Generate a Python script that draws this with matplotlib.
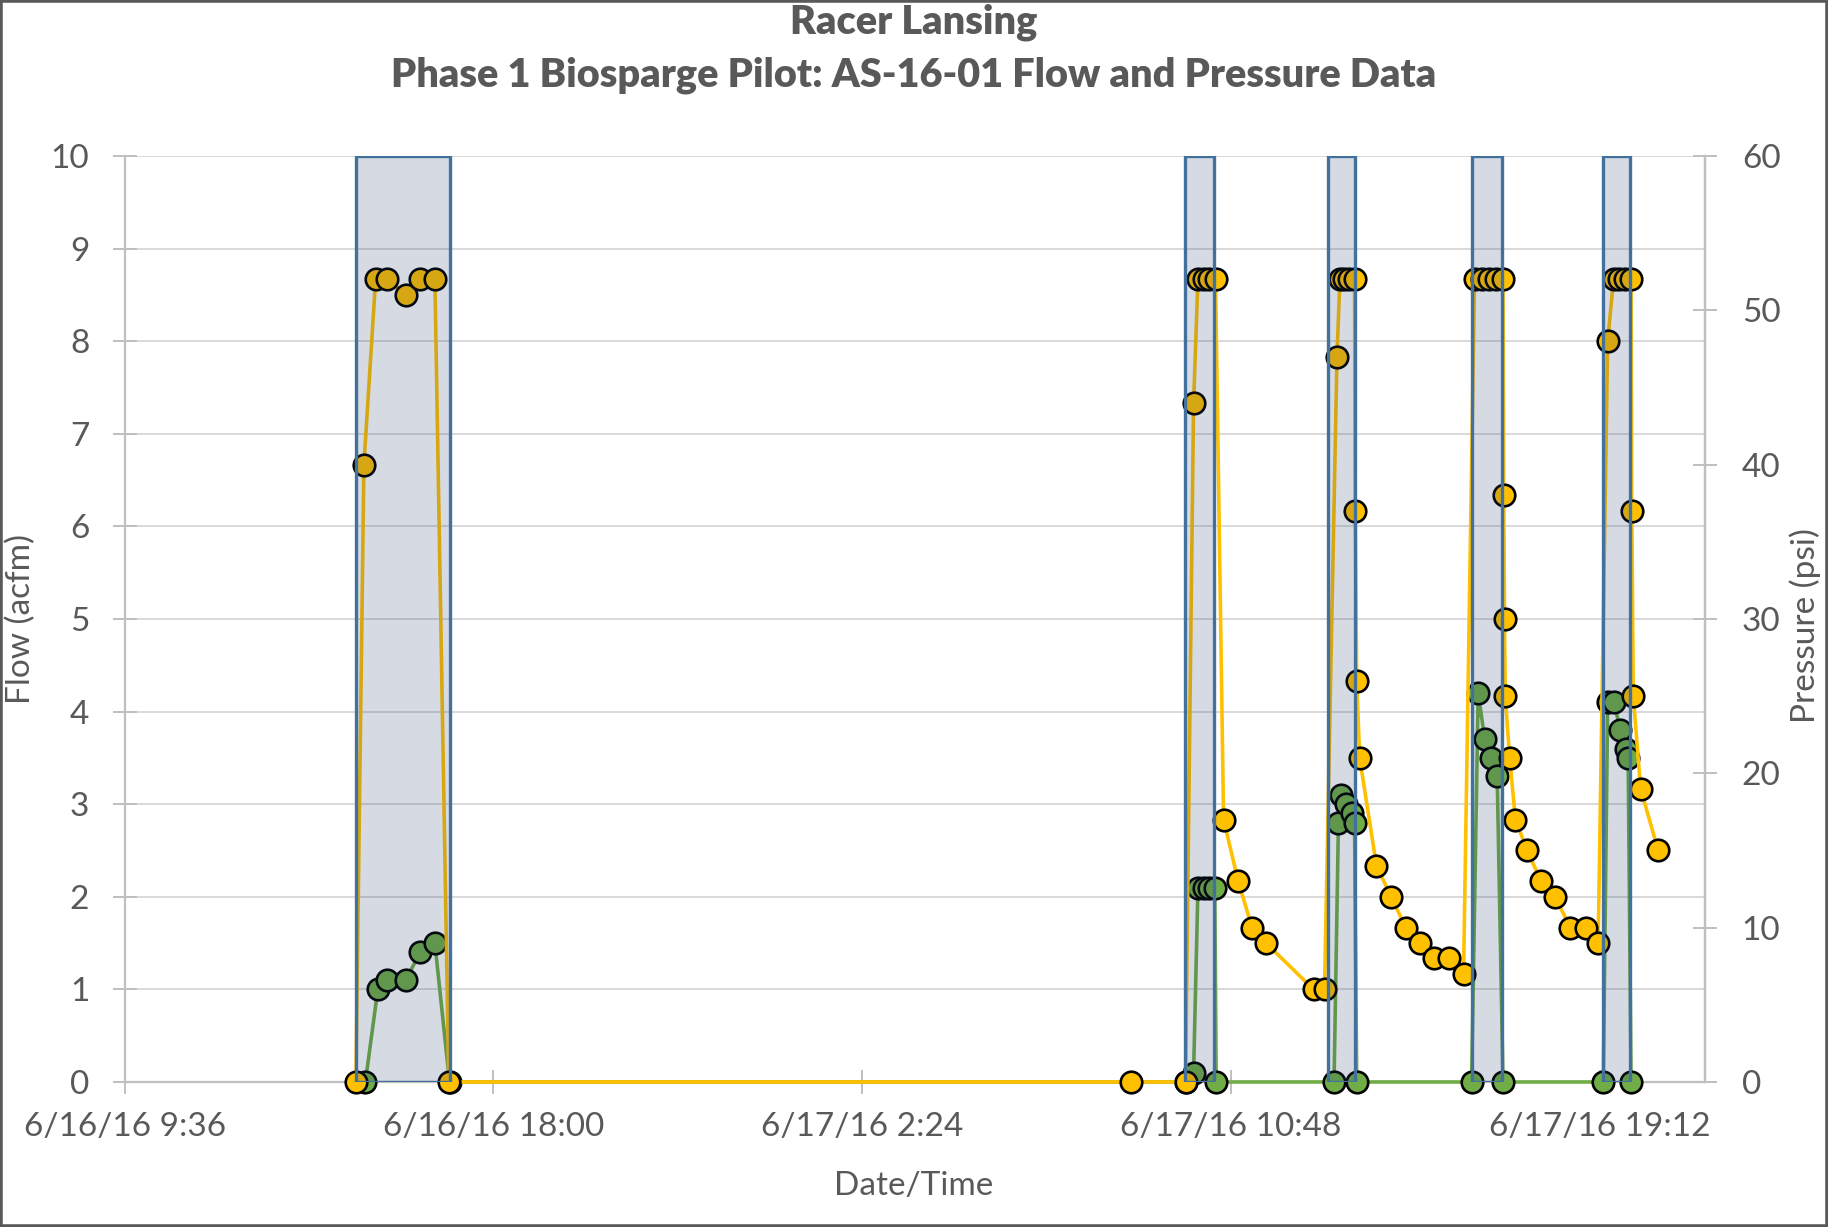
import pandas as pd
import matplotlib
matplotlib.use('Agg')
import matplotlib.pyplot as plt
from matplotlib.patches import Rectangle

plt.rcParams['font.family'] = ['Lato', 'DejaVu Sans']

# pressure readings (psi)
p_time = ['2016-06-16 14:52', '2016-06-16 15:03', '2016-06-16 15:19', '2016-06-16 15:35',
          '2016-06-16 16:00', '2016-06-16 16:20', '2016-06-16 16:40', '2016-06-16 16:59',
          '2016-06-17 08:31', '2016-06-17 09:46', '2016-06-17 09:57', '2016-06-17 10:03',
          '2016-06-17 10:11', '2016-06-17 10:18', '2016-06-17 10:27', '2016-06-17 10:38',
          '2016-06-17 10:58', '2016-06-17 11:17', '2016-06-17 11:36', '2016-06-17 12:41',
          '2016-06-17 12:56', '2016-06-17 13:13', '2016-06-17 13:17', '2016-06-17 13:23',
          '2016-06-17 13:29', '2016-06-17 13:37', '2016-06-17 13:38', '2016-06-17 13:40',
          '2016-06-17 13:44', '2016-06-17 14:07', '2016-06-17 14:27', '2016-06-17 14:47',
          '2016-06-17 15:06', '2016-06-17 15:26', '2016-06-17 15:46', '2016-06-17 16:06',
          '2016-06-17 16:21', '2016-06-17 16:31', '2016-06-17 16:41', '2016-06-17 16:50',
          '2016-06-17 17:00', '2016-06-17 17:01', '2016-06-17 17:02', '2016-06-17 17:03',
          '2016-06-17 17:09', '2016-06-17 17:17', '2016-06-17 17:33', '2016-06-17 17:52',
          '2016-06-17 18:11', '2016-06-17 18:32', '2016-06-17 18:53', '2016-06-17 19:10',
          '2016-06-17 19:23', '2016-06-17 19:31', '2016-06-17 19:39', '2016-06-17 19:47',
          '2016-06-17 19:55', '2016-06-17 19:56', '2016-06-17 19:58', '2016-06-17 20:08',
          '2016-06-17 20:32']
p_val = [0, 40, 52, 52, 51, 52, 52, 0,
         0, 0, 44, 52, 52, 52, 52, 17, 13, 10, 9, 6,
         6, 47, 52, 52, 52, 52, 37, 26, 21, 14, 12, 10,
         9, 8, 8, 7, 52, 52, 52, 52, 52, 38, 30, 25,
         21, 17, 15, 13, 12, 10, 10, 9, 48, 52, 52, 52,
         52, 37, 25, 19, 15]

# flow readings (acfm)
f_time = ['2016-06-16 15:05', '2016-06-16 15:22', '2016-06-16 15:35', '2016-06-16 16:00',
          '2016-06-16 16:20', '2016-06-16 16:40', '2016-06-16 17:00',
          '2016-06-17 09:46', '2016-06-17 09:57', '2016-06-17 10:03', '2016-06-17 10:11',
          '2016-06-17 10:18', '2016-06-17 10:26', '2016-06-17 10:28',
          '2016-06-17 13:09', '2016-06-17 13:15', '2016-06-17 13:19', '2016-06-17 13:25',
          '2016-06-17 13:33', '2016-06-17 13:37', '2016-06-17 13:40',
          '2016-06-17 16:17', '2016-06-17 16:26', '2016-06-17 16:35', '2016-06-17 16:43',
          '2016-06-17 16:52', '2016-06-17 17:00',
          '2016-06-17 19:17', '2016-06-17 19:23', '2016-06-17 19:32', '2016-06-17 19:40',
          '2016-06-17 19:48', '2016-06-17 19:51', '2016-06-17 19:55']
f_val = [0, 1.0, 1.1, 1.1, 1.4, 1.5, 0,
         0, 0.1, 2.1, 2.1, 2.1, 2.1, 0,
         0, 2.8, 3.1, 3.0, 2.9, 2.8, 0,
         0, 4.2, 3.7, 3.5, 3.3, 0,
         0, 4.1, 4.1, 3.8, 3.6, 3.5, 0]

# sparge system on periods
on_start = ['2016-06-16 14:52', '2016-06-17 09:45', '2016-06-17 13:01', '2016-06-17 16:17', '2016-06-17 19:17']
on_end = ['2016-06-16 17:00', '2016-06-17 10:25', '2016-06-17 13:38', '2016-06-17 16:59', '2016-06-17 19:54']

x_ticks = ['2016-06-16 09:36', '2016-06-16 18:00', '2016-06-17 02:24', '2016-06-17 10:48', '2016-06-17 19:12']
x_min = '2016-06-16 09:36'
x_max = '2016-06-17 21:36'

txt = '#595959'
axc = '#BFBFBF'

fig = plt.figure(figsize=(18.28, 12.27), dpi=100)
ax = fig.add_axes([0.0682, 0.1182, 0.8645, 0.7547])
ax2 = ax.twinx()

ax.plot(pd.to_datetime(f_time), f_val, color='#70AD47', lw=2.6, marker='o', ms=15.5,
        mfc='#70AD47', mec='black', mew=1.9, clip_on=False, zorder=3)
ax2.plot(pd.to_datetime(p_time), p_val, color='#FFC000', lw=2.6, marker='o', ms=15.5,
         mfc='#FFC000', mec='black', mew=1.9, clip_on=False, zorder=3)

for s, e in zip(pd.to_datetime(on_start), pd.to_datetime(on_end)):
    ax2.axvspan(s, e, facecolor=(0.12, 0.22, 0.40, 0.18), edgecolor='#41719C', lw=2.4, zorder=10)

ax.set_xlim(pd.to_datetime(x_min), pd.to_datetime(x_max))
ax.set_ylim(0, 10)
ax2.set_ylim(0, 60)
ax.set_yticks(range(0, 11))
ax2.set_yticks(range(0, 61, 10))

ticks = pd.to_datetime(x_ticks)
ax.set_xticks(ticks)
ax.set_xticklabels([f'{d.month}/{d.day}/{d.strftime("%y")} {d.hour}:{d.minute:02d}' for d in ticks])

ax.yaxis.grid(True, color='#D9D9D9', lw=1.4)
ax.set_axisbelow(True)

for a in (ax, ax2):
    a.spines['top'].set_visible(False)
    for sp in ('left', 'right', 'bottom'):
        a.spines[sp].set_color(axc)
        a.spines[sp].set_linewidth(1.6)
ax2.spines['left'].set_visible(False)
ax2.spines['bottom'].set_visible(False)

ax.tick_params(axis='x', direction='inout', length=17, width=1.4, color=axc,
               labelsize=24, labelcolor=txt, pad=13)
ax.tick_params(axis='y', direction='inout', length=17, width=1.4, color=axc,
               labelsize=24, labelcolor=txt, pad=17)
ax2.tick_params(axis='y', direction='inout', length=17, width=1.4, color=axc,
                labelsize=24, labelcolor=txt, pad=18)

fig.text(0.5, 0.982, 'Racer Lansing', ha='center', va='center', fontsize=28.5,
         fontweight='heavy', color=txt)
fig.text(0.5, 0.939, 'Phase 1 Biosparge Pilot: AS-16-01 Flow and Pressure Data', ha='center',
         va='center', fontsize=28.5, fontweight='heavy', color=txt)
fig.text(0.5, 0.0334, 'Date/Time', ha='center', va='center', fontsize=24, color=txt)
fig.text(0.0115, 0.4955, 'Flow (acfm)', ha='center', va='center', rotation=90, fontsize=24, color=txt)
fig.text(0.9874, 0.49, 'Pressure (psi)', ha='center', va='center', rotation=90, fontsize=24, color=txt)

fig.add_artist(Rectangle((0, 0), 1, 1, transform=fig.transFigure, fill=False,
                         edgecolor='#595959', lw=4))

fig.savefig('out.png', dpi=100)
